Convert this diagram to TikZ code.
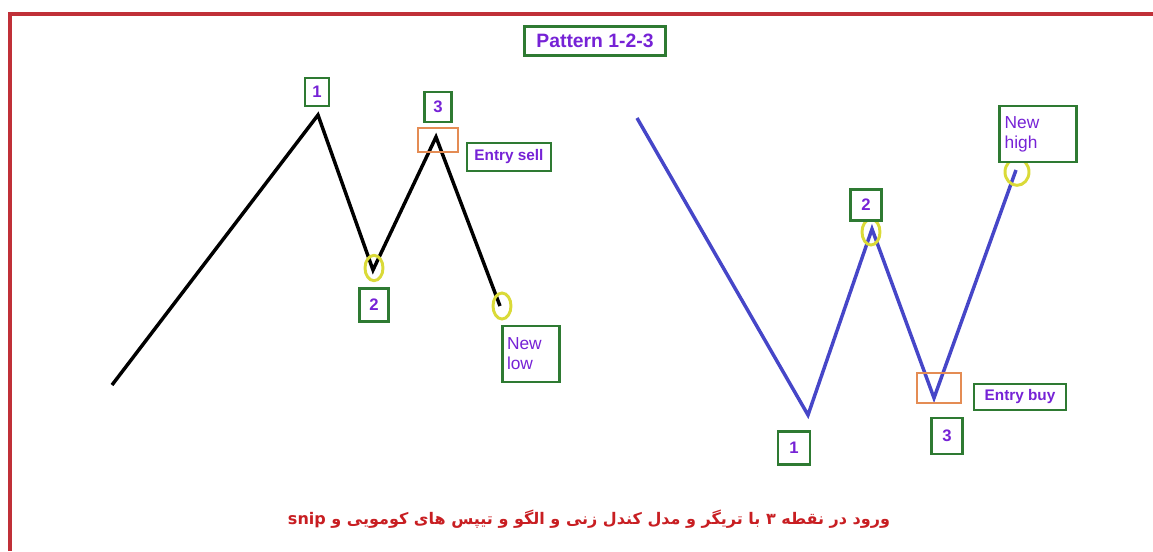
\documentclass[tikz,border=0pt]{standalone}
\usepackage{fontspec}
\setmainfont{Liberation Sans}
\newfontfamily\arabicfont[Script=Arabic]{DejaVu Sans}
\TeXXeTstate=1
\usetikzlibrary{positioning,shapes.geometric,shadows}
\definecolor{framered}{RGB}{192,48,56}
\definecolor{boxgreen}{RGB}{46,122,50}
\definecolor{labelpurple}{RGB}{118,34,214}
\definecolor{ringyellow}{RGB}{218,218,56}
\definecolor{entryorange}{RGB}{228,140,84}
\definecolor{waveblue}{RGB}{70,70,200}
\definecolor{notered}{RGB}{200,30,34}
\tikzset{main base/.style={draw=boxgreen,line width=1.8pt,fill=white,text=labelpurple,inner sep=0pt,
    drop shadow={opacity=0.25,shadow xshift=1pt,shadow yshift=-1pt}}, }
\tikzset{main node/.style={rectangle,main base,font=\bfseries\fontsize{12.5}{12.5}\selectfont}, }
\tikzset{main node2/.style={rectangle,main base,align=left,font=\fontsize{13}{15}\selectfont}, }
\tikzset{main entry/.style={rectangle,main base,font=\bfseries\fontsize{11.5}{11.5}\selectfont}, }
\tikzset{ring/.style={ellipse,draw=ringyellow,line width=2.2pt,inner sep=0pt}, }
\tikzset{entry mark/.style={rectangle,draw=entryorange,line width=1.6pt,inner sep=0pt}, }
\tikzset{linea/.style={line width=2.6pt,line join=miter,draw}}
\begin{document}
\begin{tikzpicture}[x=0.75pt,y=-0.75pt]
\useasboundingbox (0,0) rectangle (1153,551);
\draw[framered,line width=3pt] (10,551) -- (10,14) -- (1153,14);
%
\node[main node,minimum width=106pt,minimum height=22pt,font=\bfseries\fontsize{14.5}{14.5}\selectfont] (0) at (595,41) {Pattern 1-2-3};
% sell side
\coordinate (a0) at (112,385);
\coordinate (a1) at (318,115);
\coordinate (a2) at (373,270);
\coordinate (a3) at (436,137);
\coordinate (a4) at (500,306);
\path[linea,black] (a0) -- (a1) -- (a2) -- (a3) -- (a4);
\node[entry mark,minimum width=30pt,minimum height=18pt] (5) at (438,140) {};
\node[ring,minimum width=13.5pt,minimum height=19pt] (6) at (374,268) {};
\node[ring,minimum width=13.5pt,minimum height=19.5pt] (7) at (502,306) {};
\node[main node,minimum width=18pt,minimum height=21pt] (1) at (317,92) {1};
\node[main node,minimum width=22pt,minimum height=25pt] (2) at (374,305) {2};
\node[main node,minimum width=20pt,minimum height=22.5pt] (3) at (438,107) {3};
\node[main entry,minimum width=63pt,minimum height=21pt] (8) at (509,157) {Entry sell};
\node[main node2,minimum width=43pt,minimum height=42pt,text width=36pt] (9) at (531,354) {New\\low};
% buy side
\coordinate (b0) at (637,118);
\coordinate (b1) at (808,415);
\coordinate (b2) at (872,229);
\coordinate (b3) at (934,398);
\coordinate (b4) at (1016,170);
\path[linea,waveblue] (b0) -- (b1) -- (b2) -- (b3) -- (b4);
\node[entry mark,minimum width=33pt,minimum height=23pt] (15) at (939,388) {};
\node[ring,minimum width=13.5pt,minimum height=19.5pt] (16) at (871,232) {};
\node[ring,minimum width=18pt,minimum height=20pt] (17) at (1017,172) {};
\node[main node,minimum width=24pt,minimum height=25pt] (11) at (794,448) {1};
\node[main node,minimum width=23pt,minimum height=23pt] (12) at (866,205) {2};
\node[main node,minimum width=23pt,minimum height=27pt] (13) at (947,436) {3};
\node[main entry,minimum width=69pt,minimum height=19.5pt] (18) at (1020,397) {Entry buy};
\node[main node2,minimum width=58pt,minimum height=42pt,text width=50pt] (19) at (1038,134) {New\\high};
%
\node[text=notered,font=\arabicfont\bfseries\fontsize{12}{12}\selectfont] (20) at (589,519) {\beginR ورود در نقطه ۳ با تریگر و مدل کندل زنی و الگو و تیپس های کومویی و \beginL snip\endL\endR};
\end{tikzpicture}
\end{document}
